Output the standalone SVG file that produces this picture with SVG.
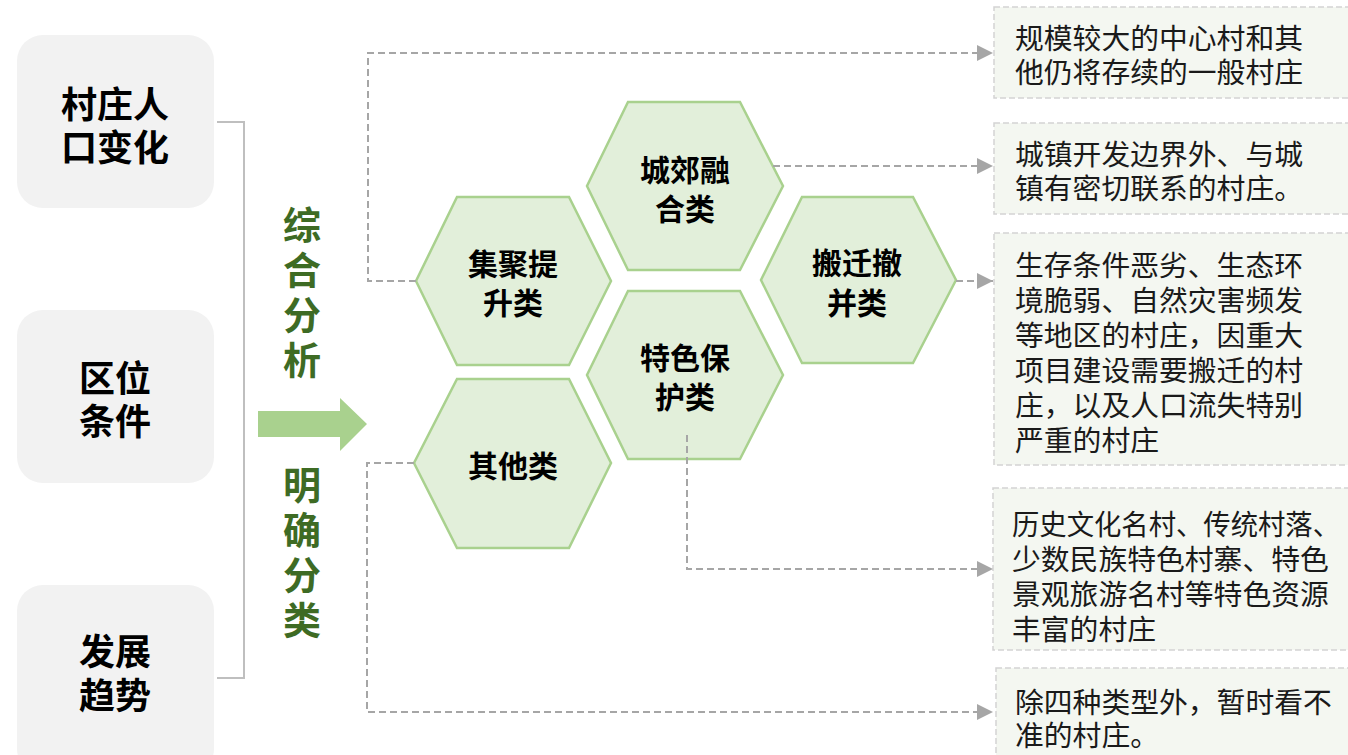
<svg xmlns="http://www.w3.org/2000/svg" width="1348" height="755" viewBox="0 0 1348 755">
<defs>
<marker id="arr" markerUnits="userSpaceOnUse" markerWidth="18" markerHeight="18" refX="16" refY="8" orient="auto">
<path d="M0,0 L16,8 L0,16 Z" fill="#a6a6a6"/>
</marker>
<style>
.factor{fill:#f2f2f2}
.ft{font-family:"Noto Sans CJK SC","Noto Sans",sans-serif;font-weight:bold;font-size:36px;fill:#000;text-anchor:middle;dominant-baseline:central}
.gt{font-family:"Noto Sans CJK SC","Noto Sans",sans-serif;font-weight:bold;font-size:38px;fill:#3e6b24;writing-mode:vertical-rl;letter-spacing:7px}
.hex{fill:#e2efda;stroke:#a9d18e;stroke-width:2.5}
.ht{font-family:"Noto Sans CJK SC","Noto Sans",sans-serif;font-weight:bold;font-size:30px;fill:#000;text-anchor:middle;dominant-baseline:central}
.box{fill:#f4f7f1;stroke:#d3d3d3;stroke-width:1.5;stroke-dasharray:6 3}
.bt{font-family:"Noto Sans CJK SC","Noto Sans",sans-serif;font-size:28.8px;fill:#1a1a1a;dominant-baseline:central}
.conn{fill:none;stroke:#a6a6a6;stroke-width:2;stroke-dasharray:7 4}
</style>
</defs>
<rect width="1348" height="755" fill="#ffffff"/>

<g id="factor-population">
<rect class="factor" x="17" y="35" width="197" height="173" rx="26"/>
<text class="ft"><tspan x="115" y="102">村庄人</tspan><tspan x="115" y="145">口变化</tspan></text>
</g>
<g id="factor-location">
<rect class="factor" x="17" y="310" width="197" height="173" rx="26"/>
<text class="ft"><tspan x="115" y="376">区位</tspan><tspan x="115" y="419">条件</tspan></text>
</g>
<g id="factor-trend">
<rect class="factor" x="17" y="585" width="197" height="190" rx="26"/>
<text class="ft"><tspan x="115" y="649">发展</tspan><tspan x="115" y="693">趋势</tspan></text>
</g>

<g id="bracket">
<path d="M217,122 H244 V678 H217" fill="none" stroke="#bfbfbf" stroke-width="2"/>
</g>

<g id="label-analysis">
<text class="gt" x="302" y="206">综合分析</text>
</g>
<g id="big-arrow">
<path d="M258,411 H340 V398 L367,424 L340,451 V437 H258 Z" fill="#a9d18e"/>
</g>
<g id="label-classify">
<text class="gt" x="302" y="466">明确分类</text>
</g>

<g id="hex-suburban">
<polygon class="hex" points="628,102 740,102 783,186 740,270 628,270 587,186"/>
<text class="ht"><tspan x="685" y="168">城郊融</tspan><tspan x="685" y="207">合类</tspan></text>
</g>
<g id="hex-cluster">
<polygon class="hex" points="457,197 569,197 611,281 569,365 457,365 416,281"/>
<text class="ht"><tspan x="513" y="262">集聚提</tspan><tspan x="513" y="301">升类</tspan></text>
</g>
<g id="hex-relocate">
<polygon class="hex" points="802,197 913,197 956,280 913,363 802,363 761,280"/>
<text class="ht"><tspan x="857" y="261">搬迁撤</tspan><tspan x="857" y="301">并类</tspan></text>
</g>
<g id="hex-feature">
<polygon class="hex" points="628,291 740,291 783,375 740,459 628,459 587,375"/>
<text class="ht"><tspan x="685" y="356">特色保</tspan><tspan x="685" y="395">护类</tspan></text>
</g>
<g id="hex-other">
<polygon class="hex" points="457,379 569,379 611,463 569,548 457,548 414,463"/>
<text class="ht" x="513" y="464">其他类</text>
</g>

<g id="box-cluster">
<rect class="box" x="994" y="7" width="370" height="91"/>
<text class="bt"><tspan x="1015" y="36">规模较大的中心村和其</tspan><tspan x="1015" y="70">他仍将存续的一般村庄</tspan></text>
</g>
<g id="box-suburban">
<rect class="box" x="994" y="123" width="370" height="91"/>
<text class="bt"><tspan x="1015" y="152">城镇开发边界外、与城</tspan><tspan x="1015" y="186">镇有密切联系的村庄。</tspan></text>
</g>
<g id="box-relocate">
<rect class="box" x="994" y="233" width="370" height="232"/>
<text class="bt"><tspan x="1015" y="263">生存条件恶劣、生态环</tspan><tspan x="1015" y="298">境脆弱、自然灾害频发</tspan><tspan x="1015" y="333">等地区的村庄，因重大</tspan><tspan x="1015" y="368">项目建设需要搬迁的村</tspan><tspan x="1015" y="403">庄，以及人口流失特别</tspan><tspan x="1015" y="438">严重的村庄</tspan></text>
</g>
<g id="box-feature">
<rect class="box" x="993" y="488" width="370" height="162"/>
<text class="bt" x="1012" y="522" textLength="328" lengthAdjust="spacingAndGlyphs">历史文化名村、传统村落、</text>
<text class="bt"><tspan x="1012" y="557">少数民族特色村寨、特色</tspan><tspan x="1012" y="592">景观旅游名村等特色资源</tspan><tspan x="1012" y="627">丰富的村庄</tspan></text>
</g>
<g id="box-other">
<rect class="box" x="996" y="668" width="370" height="100"/>
<text class="bt"><tspan x="1015" y="700">除四种类型外，暂时看不</tspan><tspan x="1015" y="733">准的村庄。</tspan></text>
</g>

<g id="connectors">
<path class="conn" d="M416,281 H368 V53 H993" marker-end="url(#arr)"/>
<path class="conn" d="M773,166 H993" marker-end="url(#arr)"/>
<path class="conn" d="M956,281 H993" marker-end="url(#arr)"/>
<path class="conn" d="M687,435 V569 H993" marker-end="url(#arr)"/>
<path class="conn" d="M414,463 H367 V712 H993" marker-end="url(#arr)"/>
</g>
</svg>
